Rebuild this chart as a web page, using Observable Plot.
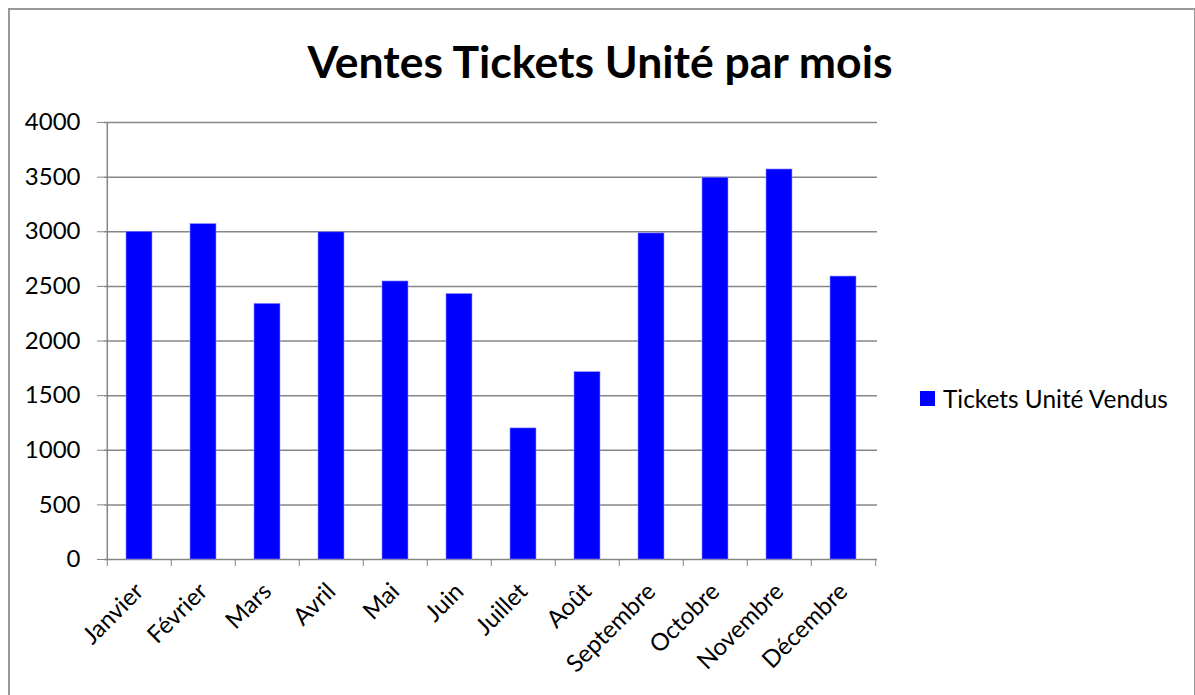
<!DOCTYPE html>
<html><head><meta charset="utf-8">
<script src="https://cdn.jsdelivr.net/npm/d3@7"></script>
<script src="https://cdn.jsdelivr.net/npm/@observablehq/plot@0.6"></script>
<style>
html,body{margin:0;padding:0;background:#fff;}
#page{position:relative;width:1195px;height:695px;overflow:hidden;font-family:Lato,"Open Sans",sans-serif;color:#000;}
#frame{position:absolute;left:8px;top:8px;width:1188px;height:720px;border:2px solid #999;box-sizing:border-box;}
#title{position:absolute;left:0;top:0;width:1200px;height:100px;text-align:center;font-weight:bold;font-size:44.5px;line-height:44px;padding-top:39px;box-sizing:border-box;}
#chart{position:absolute;left:0;top:100px;}
#legend{position:absolute;left:920px;top:384px;display:flex;align-items:center;font-size:24.4px;}
#legend .sw{width:15px;height:15px;background:#0000ff;margin-right:8px;}
</style></head>
<body>
<div id="page">
  <div id="frame"></div>
  <div id="title">Ventes Tickets Unité par mois</div>
  <div id="chart"></div>
  <div id="legend"><div class="sw"></div><span>Tickets Unité Vendus</span></div>
</div>
<script>
const months = ["Janvier","Février","Mars","Avril","Mai","Juin","Juillet","Août","Septembre","Octobre","Novembre","Décembre"];
const ticketsVendus = [3000, 3070, 2340, 2995, 2545, 2430, 1200, 1715, 2985, 3495, 3570, 2590];
const yTicks = [0, 500, 1000, 1500, 2000, 2500, 3000, 3500, 4000];
const seriesName = "Tickets Unité Vendus";

const data = months.map((m, i) => ({month: m, value: ticketsVendus[i]}));

const W = 1195, H = 595, mL = 104, mR = 318, mT = 22, mB = 136;
const step = (W - mL - mR) / months.length;
const gray = "#868686";

const chart = Plot.plot({
  width: W, height: H,
  marginLeft: mL, marginRight: mR, marginTop: mT, marginBottom: mB,
  style: {fontFamily: "Lato, 'Open Sans', sans-serif", fontSize: "24px", color: "#000", background: "transparent", overflow: "visible"},
  x: {domain: months, paddingInner: 0.6, paddingOuter: 0.3, label: null},
  y: {domain: [0, 4000], label: null},
  marks: [
    Plot.ruleY(yTicks, {stroke: gray, strokeWidth: 1.5}),
    Plot.barY(data, {x: "month", y: "value", fill: "#0000ff", stroke: "#8f8fff", strokeWidth: 0.6}),
    Plot.ruleX([months[0]], {y1: 0, y2: 4000, dx: -step / 2, stroke: gray, strokeWidth: 1.5}),
    Plot.axisY({ticks: yTicks, tickSize: 7, tickPadding: 17, stroke: gray, fill: "#000", fontSize: 24, label: null, tickFormat: d => String(d)}),
    Plot.axisX({tickSize: 7, dx: -step / 2, stroke: gray, tickFormat: () => "", label: null}),
    Plot.axisX([months[months.length - 1]], {tickSize: 7, dx: step / 2, stroke: gray, tickFormat: () => "", label: null}),
    Plot.axisX({tickSize: 0, tickRotate: -45, tickPadding: 28, fill: "#000", fontSize: 24, label: null})
  ]
});
document.getElementById("chart").appendChild(chart);
</script>
</body></html>
